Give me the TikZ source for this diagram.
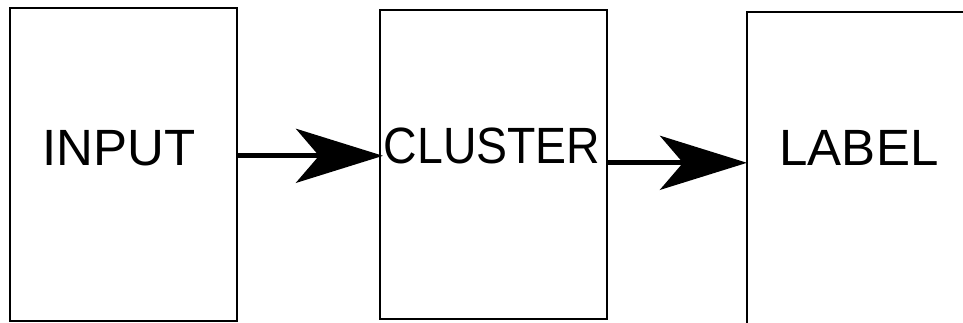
\documentclass[tikz,border=0pt]{standalone}
\usepackage{fontspec}
\setmainfont{Liberation Sans}
\usetikzlibrary{arrows.meta}
\begin{document}
\begin{tikzpicture}[x=1pt,y=-1pt,
  boxnode/.style={draw=black,line width=1.6pt,inner sep=0pt,anchor=north west},
  word/.style={inner sep=0pt,anchor=base,font=\fontsize{51}{55}\selectfont},
  flow/.style={line width=5pt,-{Stealth[length=87pt,width=54pt,inset=23pt]}}]
\clip (0,0) rectangle (963,322);
\useasboundingbox (0,0) rectangle (963,322);
\fill[white] (0,0) rectangle (963,322);
\node[boxnode,minimum width=227pt,minimum height=313pt] (b1) at (9,7) {};
\node[boxnode,minimum width=227pt,minimum height=309pt] (b2) at (379,9) {};
\node[boxnode,minimum width=260pt,minimum height=330pt] (b3) at (746,11) {};
\node[word] (t1) at (119,165) {INPUT};
\node[word,xscale=0.91] (t2) at (492,163) {CLUSTER};
\node[word] (t3) at (859,165) {LABEL};
\coordinate (a1s) at ([yshift=8.5pt]b1.east);
\coordinate (a1e) at ([yshift=8.5pt,xshift=4pt]b2.west);
\coordinate (a2s) at ([yshift=1.5pt]b2.east);
\coordinate (a2e) at ([xshift=1pt]a2s -| b3.west);
\draw[flow] (a1s) -- (a1e);
\draw[flow] (a2s) -- (a2e);
\end{tikzpicture}
\end{document}
